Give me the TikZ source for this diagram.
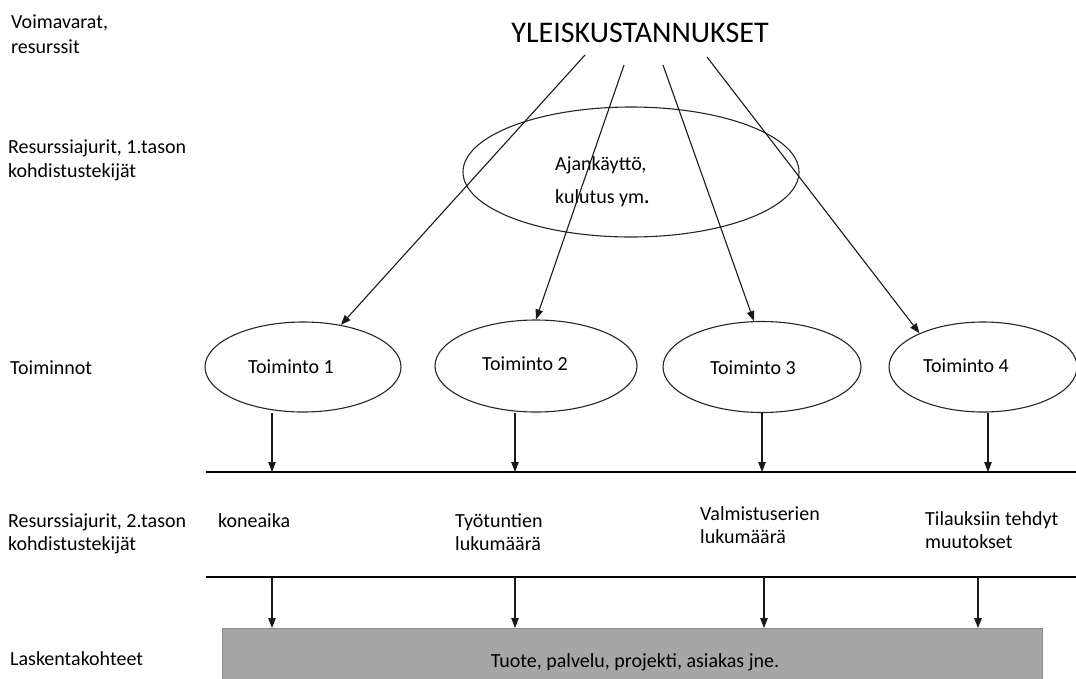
\documentclass[tikz,border=0pt]{standalone}
\usepackage{fontspec}
\setmainfont{Carlito}
\usetikzlibrary{arrows.meta,shapes.geometric}
\begin{document}
\begin{tikzpicture}[x=1pt,y=-1pt,
  txt/.style={anchor=base west,inner sep=0pt,text=black,font=\fontsize{20}{24}\selectfont},
  oval/.style={draw=black!85,line width=1.1pt,ellipse,inner sep=0pt},
  arr/.style={draw=black!90,line width=1.1pt,-{Triangle[length=10pt,width=7.5pt]}},
  rulel/.style={draw=black,line width=1.3pt}]
\useasboundingbox (0,0) rectangle (1076,678);
% left labels
\node[txt] (l1a) at (11,28) {Voimavarat,};
\node[txt] (l1b) at (11,53) {resurssit};
\node[txt] (l2a) at (8,153) {Resurssiajurit, 1.tason};
\node[txt] (l2b) at (8,177) {kohdistustekijät};
\node[txt] (l3) at (10,374) {Toiminnot};
\node[txt] (l4a) at (8,527) {Resurssiajurit, 2.tason};
\node[txt] (l4b) at (8,550) {kohdistustekijät};
\node[txt] (l5) at (10,665) {Laskentakohteet};
% title
\node[anchor=base,inner sep=0pt,text=black,font=\fontsize{30}{36}\selectfont] (title) at (640,42) {YLEISKUSTANNUKSET};
% big ellipse
\node[oval,minimum width=336pt,minimum height=130pt] (e0) at (631,172) {};
\node[txt] (e0a) at (555,170) {Ajankäyttö,};
\node[txt] (e0b) at (555,203) {kulutus ym\textbf{.}};
% activity ellipses
\node[oval,minimum width=196pt,minimum height=90pt] (t1) at (303,367) {};
\node[oval,minimum width=202pt,minimum height=92pt] (t2) at (536,366) {};
\node[oval,minimum width=198pt,minimum height=91pt] (t3) at (762,367) {};
\node[oval,minimum width=188pt,minimum height=90pt] (t4) at (983,367) {};
\node[txt] (t1x) at (248,373) {Toiminto 1};
\node[txt] (t2x) at (482,370) {Toiminto 2};
\node[txt] (t3x) at (710,374) {Toiminto 3};
\node[txt] (t4x) at (923,372) {Toiminto 4};
% top arrows
\coordinate (s1) at (585,55);
\coordinate (s2) at (624,65);
\coordinate (s3) at (663,65);
\coordinate (s4) at (707,57);
\draw[arr] (s1) -- (t1.48);
\draw[arr] (s2) -- (t2.north);
\draw[arr] (s3) -- (t3.100);
\draw[arr] (s4) -- (t4.152);
% first rule
\coordinate (h1a) at (206,472);
\coordinate (h1b) at (1076,472);
\draw[rulel] (h1a) -- (h1b);
\coordinate (d1) at (272,472);
\coordinate (d2) at (515,472);
\coordinate (d3) at (762,472);
\coordinate (d4) at (988,472);
\draw[arr] (t1.south -| d1) -- (d1);
\draw[arr] (t2.south -| d2) -- (d2);
\draw[arr] (t3.south -| d3) -- (d3);
\draw[arr] (t4.south -| d4) -- (d4);
% second level texts
\node[txt] (k1) at (218,527) {koneaika};
\node[txt] (k2a) at (455,527) {Työtuntien};
\node[txt] (k2b) at (455,550) {lukumäärä};
\node[txt] (k3a) at (700,520) {Valmistuserien};
\node[txt] (k3b) at (700,543) {lukumäärä};
\node[txt] (k4a) at (925,525) {Tilauksiin tehdyt};
\node[txt] (k4b) at (925,548) {muutokset};
% second rule
\coordinate (h2a) at (206,577);
\coordinate (h2b) at (1076,577);
\draw[rulel] (h2a) -- (h2b);
% cost object box
\node[draw=black!45,fill=black!35,line width=0.8pt,anchor=north west,minimum width=820pt,minimum height=54pt,inner sep=0pt] (box) at (222,628) {};
\node[anchor=base,inner sep=0pt,text=black,font=\fontsize{20}{24}\selectfont] (boxt) at (635,667) {Tuote, palvelu, projekti, asiakas jne.};
\coordinate (u1) at (272,577);
\coordinate (u2) at (515,577);
\coordinate (u3) at (764,577);
\coordinate (u4) at (978,577);
\draw[arr] (u1) -- (box.north -| u1);
\draw[arr] (u2) -- (box.north -| u2);
\draw[arr] (u3) -- (box.north -| u3);
\draw[arr] (u4) -- (box.north -| u4);
\end{tikzpicture}
\end{document}
